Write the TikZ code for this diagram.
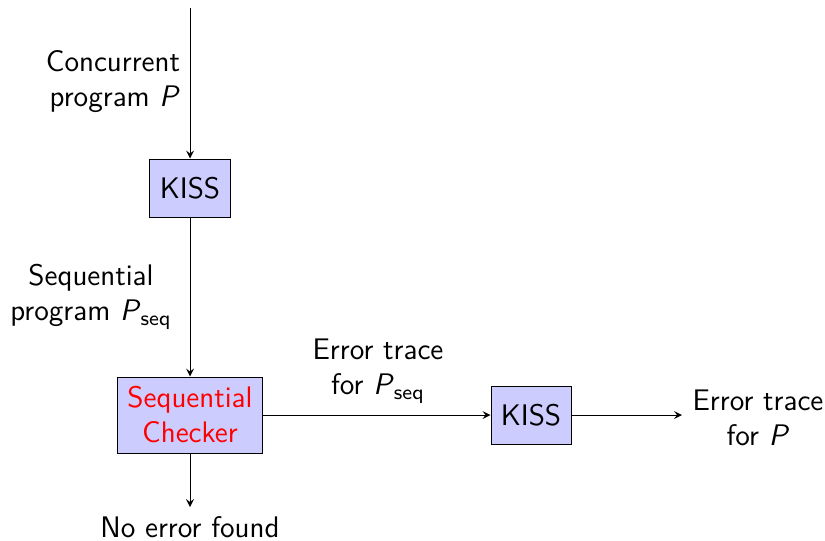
\documentclass[tikz,border=0pt]{standalone}
\usetikzlibrary{arrows}
\tikzset{
	stage/.style={draw, fill=blue!20, font=\sffamily, inner sep=0pt},
	flow/.style={->, >=stealth},
	note/.style={font=\sffamily, align=center}
}
\newcommand{\Pseq}{\textit{P}\textsubscript{seq}}
\begin{document}
\fontsize{11.9}{14}\selectfont
\begin{tikzpicture}[x=0.4pt, y=-0.4pt]
		\useasboundingbox (0,0) rectangle (825,540);
		\coordinate (src) at (190, 8);
		\node[stage, minimum width=32.4pt, minimum height=23.2pt] (kissA) at (190, 188) {KISS};
		\node[stage, minimum width=58pt, minimum height=30.4pt, text=red, align=center] (checker) at (190, 415) {Sequential\\Checker};
		\node[stage, minimum width=32pt, minimum height=23.2pt] (kissB) at (531, 415) {KISS};
		\coordinate (out) at (682, 415);
		\coordinate (none) at (190, 507);
		\draw[flow] (src) -- (kissA);	% Input
		\draw[flow] (kissA) -- (checker);
		\draw[flow] (checker) -- (kissB);
		\draw[flow] (kissB) -- (out);
		\draw[flow] (checker) -- (none);
		\node[note, align=right] (concurrent) at (113, 82) {Concurrent\\program \textit{P}};
		\node[note] (sequential) at (91, 297) {Sequential\\program \Pseq};
		\node[note] (tracein) at (378, 371) {Error trace\\for \Pseq};
		\node[note] (traceout) at (758, 418) {Error trace\\for \textit{P}};
		\node[note] (nofound) at (190, 527) {No error found};
	\end{tikzpicture}
\end{document}
